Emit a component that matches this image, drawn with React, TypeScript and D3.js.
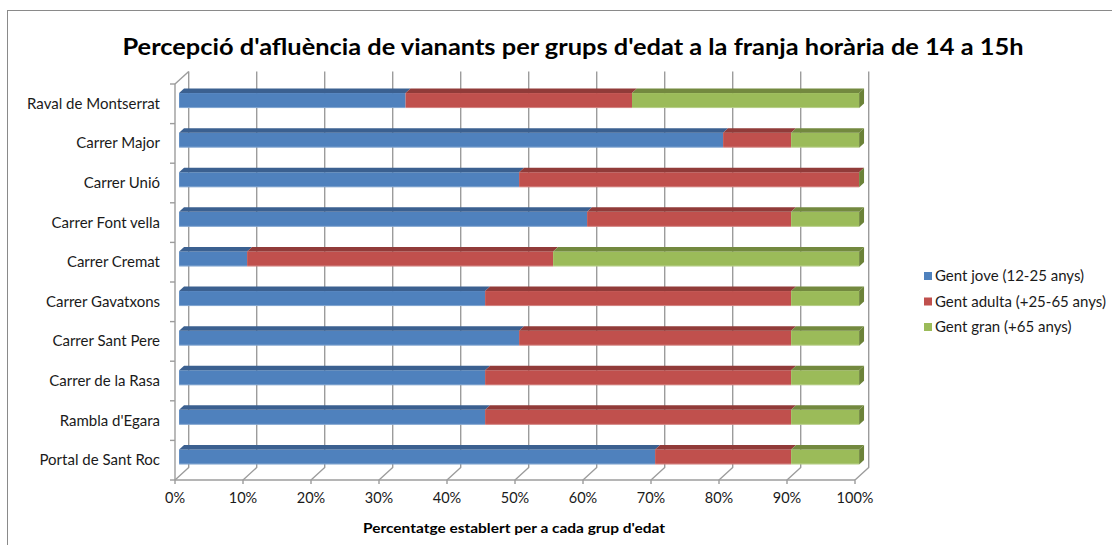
import React from "react";
import * as d3 from "d3";

const categories = [
  "Raval de Montserrat",
  "Carrer Major",
  "Carrer Unió",
  "Carrer Font vella",
  "Carrer Cremat",
  "Carrer Gavatxons",
  "Carrer Sant Pere",
  "Carrer de la Rasa",
  "Rambla d'Egara",
  "Portal de Sant Roc",
];
const seriesNames = ["Gent jove (12-25 anys)", "Gent adulta (+25-65 anys)", "Gent gran (+65 anys)"];
const jove = [33.3, 80, 50, 60, 10, 45, 50, 45, 45, 70];
const adulta = [33.3, 10, 50, 30, 45, 45, 40, 45, 45, 20];
const gran = [33.4, 10, 0, 10, 45, 10, 10, 10, 10, 10];
const xTicks = [0, 10, 20, 30, 40, 50, 60, 70, 80, 90, 100];
const title = "Percepció d'afluència de vianants per grups d'edat a la franja horària de 14 a 15h";
const xTitle = "Percentatge establert per a cada grup d'edat";

const frontColors = ["#4F81BD", "#C0504D", "#9BBB59"];
const topColors = ["#3B6090", "#913B39", "#73893F"];
const sideColors = ["#365A86", "#873735", "#6B8238"];

export default function App() {
  const x = d3.scaleLinear().domain([0, 100]).range([175, 855]);
  const y = d3.scaleBand<string>().domain(categories).range([84, 480]);
  const Dx = 13.7, Dy = -12.5; // full depth offset
  const f0 = 0.3, f1 = 0.66; // bar depth fraction
  const bx0 = Dx * f0, by0 = Dy * f0;
  const ddx = Dx * (f1 - f0), ddy = Dy * (f1 - f0);
  const barH = 15;
  const series = [jove, adulta, gran];
  const font = "Lato, 'Open Sans', sans-serif";

  const pts = (arr: number[][]) => arr.map((p) => p.join(",")).join(" ");

  return (
    <svg width={1112} height={545} style={{ position: "absolute", left: 0, top: 0, background: "#fff" }}>
      <rect x={7.5} y={10.5} width={1120} height={560} fill="#fff" stroke="#8a8a8a" strokeWidth={1} />
      <text x={573} y={55} textAnchor="middle" fontFamily={font} fontWeight="bold" fontSize={22} fill="#000" textLength={901} lengthAdjust="spacingAndGlyphs">
        {title}
      </text>
      {/* back wall gridlines and floor diagonals */}
      {xTicks.map((t) => (
        <g key={t} stroke="#9c9c9c" strokeWidth={1.4} fill="none">
          <polyline points={pts([[x(t) + Dx, 84 + Dy], [x(t) + Dx, 480 + Dy], [x(t), 480], [x(t), 484]])} />
        </g>
      ))}
      {/* left axis */}
      <g stroke="#9c9c9c" strokeWidth={1.4} fill="none">
        <line x1={175} y1={84} x2={175} y2={480} />
        <line x1={175} y1={84} x2={175 + Dx} y2={84 + Dy} />
        <line x1={175} y1={480} x2={855} y2={480} />
        {categories.concat([""]).map((c, i) => {
          const yy = 84 + i * y.step();
          return <line key={i} x1={170} y1={yy} x2={175} y2={yy} />;
        })}
      </g>
      {/* bars */}
      {categories.map((c, i) => {
        const cy = (y(c) as number) + y.bandwidth() / 2 + by0 + 0.5;
        const yT = cy - barH / 2, yB = cy + barH / 2;
        let acc = 0;
        const segs = series.map((s, k) => {
          const a = acc;
          acc += s[i];
          return { k, a, b: acc };
        });
        const lastK = 2;
        return (
          <g key={c}>
            {segs.map(({ k, a, b }) => {
              const X0 = x(a) + bx0, X1 = x(Math.min(b, 100)) + bx0;
              return (
                <g key={k}>
                  <rect x={X0} y={yT} width={Math.max(0, X1 - X0)} height={barH} fill={frontColors[k]} />
                  <polygon points={pts([[X0, yT], [X1, yT], [X1 + ddx, yT + ddy], [X0 + ddx, yT + ddy]])} fill={topColors[k]} />
                </g>
              );
            })}
            {(() => {
              const X1 = x(100) + bx0;
              return (
                <polygon points={pts([[X1, yT], [X1 + ddx, yT + ddy], [X1 + ddx, yB + ddy], [X1, yB]])} fill={sideColors[lastK]} />
              );
            })()}
            <line x1={x(0) + bx0} x2={x(100) + bx0} y1={yB - 0.5} y2={yB - 0.5} stroke="#fff" strokeOpacity={0.3} />
          </g>
        );
      })}
      {/* category labels */}
      {categories.map((c) => (
        <text key={c} x={160} y={(y(c) as number) + y.bandwidth() / 2 + 5} textAnchor="end" fontFamily={font} fontSize={15} fill="#1a1a1a">
          {c}
        </text>
      ))}
      {/* x tick labels */}
      {xTicks.map((t) => (
        <text key={t} x={x(t)} y={503} textAnchor="middle" fontFamily={font} fontSize={14.5} fill="#1a1a1a">
          {t + "%"}
        </text>
      ))}
      <text x={514} y={533} textAnchor="middle" fontFamily={font} fontWeight="bold" fontSize={13.5} fill="#000" textLength={302} lengthAdjust="spacingAndGlyphs">
        {xTitle}
      </text>
      {/* legend */}
      {seriesNames.map((n, k) => {
        const cy = 276 + k * 25.5;
        return (
          <g key={n}>
            <rect x={924} y={cy - 4} width={8} height={8} fill={frontColors[k]} />
            <text x={935} y={cy + 5} fontFamily={font} fontSize={15} fill="#1a1a1a">
              {n}
            </text>
          </g>
        );
      })}
    </svg>
  );
}
